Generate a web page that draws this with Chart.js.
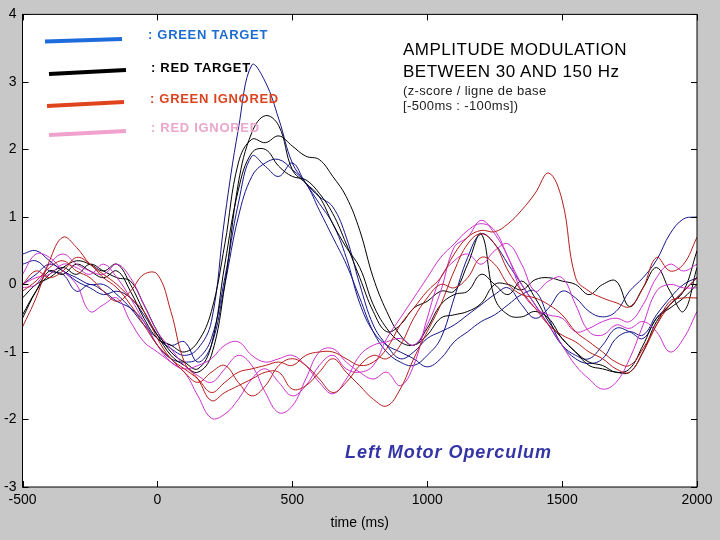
<!DOCTYPE html>
<html>
<head>
<meta charset="utf-8">
<script src="https://cdn.jsdelivr.net/npm/chart.js@4.4.1/dist/chart.umd.min.js"></script>
<style>
  body { margin: 0; background: #c8c8c8; }
  #wrap { position: relative; width: 720px; height: 540px; font-family: "Liberation Sans", Arial, sans-serif; }
  #wrap canvas { position: absolute; left: 0; top: 0; }
  .txt { position: absolute; white-space: nowrap; }
  .leg { font-size: 13px; line-height: 13px; font-weight: bold; letter-spacing: 0.7px; }
  .ttl { font-size: 17px; line-height: 17px; color: #000; letter-spacing: 0.5px; }
  .sub { font-size: 13px; line-height: 13px; color: #222; letter-spacing: 0.35px; }
  .region { font-size: 18px; line-height: 18px; font-weight: bold; font-style: italic; color: #3434a6; letter-spacing: 0.95px; }
</style>
</head>
<body>
<div id="wrap">
  <canvas id="chart" width="720" height="540"></canvas>
  <div class="txt leg" style="left:148px; top:28px; color:#1e6cd2;">: GREEN TARGET</div>
  <div class="txt leg" style="left:151px; top:61px; color:#000;">: RED TARGET</div>
  <div class="txt leg" style="left:150px; top:92px; color:#dc4420;">: GREEN IGNORED</div>
  <div class="txt leg" style="left:151px; top:121px; color:#eaa6cc;">: RED IGNORED</div>
  <div class="txt ttl" style="left:403px; top:41px;">AMPLITUDE MODULATION</div>
  <div class="txt ttl" style="left:403px; top:63px;">BETWEEN 30 AND 150 Hz</div>
  <div class="txt sub" style="left:403px; top:84px;">(z-score / ligne de base</div>
  <div class="txt sub" style="left:403px; top:99px;">[-500ms : -100ms])</div>
  <div class="txt region" style="left:345px; top:443px;">Left Motor Operculum</div>
</div>
<script>
// temps (ms), un point tous les 50 ms
const times = [-500, -450, -400, -350, -300, -250, -200, -150, -100, -50,
    0, 50, 100, 150, 200, 250, 300, 350, 400, 450,
    500, 550, 600, 650, 700, 750, 800, 850, 900, 950,
    1000, 1050, 1100, 1150, 1200, 1250, 1300, 1350, 1400, 1450,
    1500, 1550, 1600, 1650, 1700, 1750, 1800, 1850, 1900, 1950, 2000];

// green target (bleu)
const blueA = [0.45, 0.5, 0.35, 0.2, 0.1, 0.0, 0.0, -0.15, -0.35, -0.6,
    -0.8, -0.95, -1.05, -0.95, -0.55, 1.0, 2.3, 3.25, 3.0, 2.45,
    1.8, 1.5, 1.2, 0.9, 0.4, -0.28, -0.7, -0.9, -1.0, -1.1,
    -1.22, -1.1, -0.85, -0.7, -0.55, -0.45, -0.3, -0.15, -0.1, -0.5,
    -0.9, -1.1, -1.17, -1.1, -0.8, -0.7, -0.75, -0.45, -0.2, 0.0, 0.1];
const blueB = [0.3, 0.35, 0.2, 0.15, -0.1, 0.0, -0.1, -0.25, -0.35, -0.55,
    -0.9, -1.1, -1.15, -1.1, -0.8, 0.1, 1.2, 1.9, 1.75, 1.6,
    1.8, 1.5, 1.3, 1.15, 0.7, 0.0, -0.6, -0.9, -1.1, -1.0,
    -0.8, -0.7, -0.6, -0.45, -0.3, -0.15, -0.05, -0.3, -0.5, -0.35,
    -0.1, -0.2, -0.4, -0.48, -0.4, -0.1, 0.1, 0.36, 0.75, 0.97, 1.0];
const blueC = [0.0, 0.15, 0.3, 0.2, 0.05, -0.05, -0.15, -0.1, -0.2, -0.45,
    -0.75, -0.9, -0.85, -1.15, -0.9, 0.0, 1.0, 1.6, 1.8, 1.85,
    1.7, 1.5, 1.1, 0.7, 0.3, -0.2, -0.7, -1.0, -1.15, -1.2,
    -1.05, -0.8, -0.2, 0.4, 0.75, 0.6, 0.3, 0.0, -0.3, -0.6,
    -0.9, -1.05, -1.1, -0.9, -0.65, -0.7, -0.8, -0.5, -0.3, -0.1, 0.1];

// red target (noir)
const blackA = [-0.2, 0.0, 0.1, 0.25, 0.35, 0.3, 0.2, 0.3, 0.0, -0.4,
    -0.75, -1.05, -1.2, -1.3, -1.05, 0.0, 1.5, 2.25, 2.5, 2.35,
    1.7, 1.5, 1.3, 0.9, 0.55, 0.25, -0.3, -0.65, -0.85, -0.9,
    -0.75, -0.5, -0.45, -0.4, -0.28, 0.0, 0.0, -0.08, 0.07, 0.1,
    0.05, 0.0, -0.15, 0.0, 0.05, -0.33, -0.05, 0.25, -0.1, -0.4, 0.25];
const blackB = [-0.5, -0.1, 0.2, 0.15, 0.3, 0.2, 0.1, 0.2, -0.1, -0.5,
    -0.8, -0.9, -1.0, -0.85, -0.4, 0.6, 1.8, 2.15, 2.1, 2.2,
    2.05, 1.9, 1.85, 1.6, 1.3, 0.8, 0.1, -0.4, -0.75, -0.9,
    -0.65, -0.3, -0.15, -0.1, 0.15, 0.0, -0.15, 0.05, -0.2, -0.55,
    -0.8, -1.0, -1.2, -1.25, -1.3, -1.3, -1.0, -0.55, -0.3, -0.1, 0.5];
const blackC = [-0.45, -0.1, 0.15, 0.25, 0.15, 0.3, 0.2, 0.1, 0.05, -0.3,
    -0.7, -1.0, -1.15, -1.25, -0.9, 0.3, 1.4, 1.95, 2.0, 1.75,
    1.6, 1.55, 1.35, 1.05, 0.6, 0.1, -0.4, -0.7, -0.6, -0.35,
    -0.25, -0.1, -0.1, 0.3, 0.75, -0.2, -0.45, -0.48, -0.4, -0.5,
    -0.8, -1.0, -1.15, -1.2, -1.3, -1.25, -0.9, -0.5, -0.35, -0.2, 0.0];

// green ignored (rouge)
const redA = [-0.63, -0.2, 0.35, 0.7, 0.55, 0.3, 0.15, 0.0, -0.2, -0.4,
    -0.8, -1.1, -1.25, -1.4, -1.6, -1.45, -1.3, -1.25, -1.2, -1.15,
    -1.2, -1.05, -1.0, -1.0, -1.1, -1.2, -1.15, -0.95, -0.6, -0.35,
    -0.1, 0.1, 0.45, 0.7, 0.8, 0.78, 0.9, 1.1, 1.35, 1.65,
    1.25, 0.1, -0.1, -0.2, -0.27, -0.33, -0.05, 0.4, 0.2, 0.3, 0.7];
const redB = [-0.1, 0.05, 0.25, 0.35, 0.2, 0.1, -0.1, -0.25, -0.1, 0.15,
    0.15, -0.4, -1.15, -1.4, -1.72, -1.6, -1.5, -1.4, -1.3, -1.3,
    -1.55, -1.5, -1.3, -1.1, -1.3, -1.5, -1.7, -1.8, -1.55, -1.1,
    -0.7, -0.3, 0.2, 0.6, 0.75, 0.6, 0.2, -0.1, -0.35, -0.6,
    -0.75, -0.85, -1.0, -1.1, -1.25, -1.3, -1.0, -0.6, -0.25, -0.2, -0.2];
const redC = [0.0, 0.2, 0.1, 0.2, 0.4, 0.3, 0.1, -0.05, -0.3, -0.6,
    -0.9, -1.1, -1.3, -1.45, -1.3, -1.2, -1.45, -1.65, -1.5, -1.2,
    -1.1, -1.2, -1.4, -1.6, -1.45, -1.2, -1.05, -1.1, -0.9, -0.5,
    -0.2, 0.0, -0.05, 0.1, 0.4, 0.3, 0.0, -0.15, -0.2, -0.3,
    -0.45, -0.7, -0.85, -1.0, -1.15, -1.2, -0.95, -0.6, -0.3, -0.1, 0.1];

// red ignored (magenta)
const magA = [0.15, 0.45, 0.4, 0.2, 0.0, -0.4, -0.3, -0.2, -0.55, -0.85,
    -1.0, -1.15, -1.3, -1.65, -1.98, -1.92, -1.7, -1.4, -1.25, -1.45,
    -1.65, -1.5, -1.2, -1.05, -1.25, -1.3, -1.2, -0.8, -0.5, -0.2,
    0.1, 0.4, 0.6, 0.8, 0.9, 0.8, 0.4, 0.0, -0.3, -0.6,
    -0.9, -1.2, -1.4, -1.55, -1.45, -1.1, -0.6, -0.1, 0.0, -0.05, -0.05];
const magB = [-0.05, 0.0, 0.3, 0.45, 0.3, 0.2, 0.15, 0.3, 0.1, -0.3,
    -0.7, -0.95, -1.2, -1.35, -1.45, -1.25, -1.05, -1.2, -1.6, -1.9,
    -1.8, -1.4, -1.0, -0.95, -1.15, -1.3, -1.4, -1.3, -1.5, -1.2,
    -0.5, 0.1, 0.35, 0.45, 0.3, 0.5, 0.6, 0.3, -0.1, 0.05,
    0.1, -0.3, -0.7, -0.75, -0.6, -0.65, -0.55, -0.7, -1.0, -0.8, -0.4];
const magC = [0.0, 0.1, 0.15, 0.3, 0.25, 0.15, 0.3, 0.1, -0.2, -0.55,
    -0.9, -1.15, -1.25, -1.2, -1.1, -0.9, -0.85, -1.05, -1.15, -1.1,
    -1.05, -1.2, -1.45, -1.62, -1.4, -1.05, -0.9, -0.85, -0.8, -0.9,
    -0.6, -0.1, 0.55, 0.7, 0.95, 0.75, 0.4, -0.1, -0.35, -0.45,
    -0.5, -0.7, -0.65, -0.55, -0.5, -0.55, -0.3, 0.1, 0.3, 0.2, 0.3];

const xTicks = [-500, 0, 500, 1000, 1500, 2000];
const yTicks = [-3, -2, -1, 0, 1, 2, 3, 4];

const BLUE = '#16168c';
const BLACK = '#000000';
const RED = '#b81c1c';
const MAGENTA = '#cc30cc';

function serie(data, color) {
    return {
        data: data,
        borderColor: color,
        borderWidth: 1,
        pointRadius: 0,
        fill: false,
        tension: 0.4
    };
}

// fond blanc, cadre, graduations vers l'intérieur et traits de légende
const framePlugin = {
    id: 'frame',
    beforeDatasetsDraw(chart) {
        const { ctx, chartArea: a } = chart;
        ctx.save();
        ctx.fillStyle = '#ffffff';
        ctx.fillRect(a.left, a.top, a.right - a.left, a.bottom - a.top);
        ctx.restore();
    },
    afterDatasetsDraw(chart) {
        const { ctx, chartArea: a, scales } = chart;
        ctx.save();
        ctx.strokeStyle = '#000';
        ctx.lineWidth = 1;
        ctx.strokeRect(a.left, a.top, a.right - a.left, a.bottom - a.top);
        ctx.beginPath();
        scales.x.ticks.forEach(t => {
            const px = Math.round(scales.x.getPixelForValue(t.value)) + 0.5;
            ctx.moveTo(px, a.bottom); ctx.lineTo(px, a.bottom - 6);
            ctx.moveTo(px, a.top); ctx.lineTo(px, a.top + 6);
        });
        scales.y.ticks.forEach(t => {
            const py = Math.round(scales.y.getPixelForValue(t.value)) + 0.5;
            ctx.moveTo(a.left, py); ctx.lineTo(a.left + 6, py);
            ctx.moveTo(a.right, py); ctx.lineTo(a.right - 6, py);
        });
        ctx.stroke();

        // traits de légende
        const swatches = [
            ['#1e6cdc', 45, 41.5, 122, 39],
            ['#000000', 49, 74, 126, 70],
            ['#e0441c', 47, 106, 124, 102],
            ['#f0a2cc', 49, 135, 126, 131]
        ];
        ctx.lineWidth = 4;
        ctx.lineCap = 'butt';
        swatches.forEach(s => {
            ctx.strokeStyle = s[0];
            ctx.beginPath();
            ctx.moveTo(s[1], s[2]);
            ctx.lineTo(s[3], s[4]);
            ctx.stroke();
        });
        ctx.restore();
    }
};

const tickFont = { family: "'Liberation Sans', Arial, sans-serif", size: 14 };

new Chart(document.getElementById('chart'), {
    type: 'line',
    data: {
        labels: times,
        datasets: [
            serie(redA, RED), serie(redB, RED), serie(redC, RED),
            serie(magA, MAGENTA), serie(magB, MAGENTA), serie(magC, MAGENTA),
            serie(blackA, BLACK), serie(blackB, BLACK), serie(blackC, BLACK),
            serie(blueA, BLUE), serie(blueB, BLUE), serie(blueC, BLUE)
        ]
    },
    options: {
        responsive: false,
        animation: false,
        layout: { padding: { top: 14, right: 23, left: 0, bottom: 0 } },
        plugins: { legend: { display: false }, tooltip: { enabled: false } },
        scales: {
            x: {
                type: 'linear',
                min: -500,
                max: 2000,
                afterBuildTicks(s) { s.ticks = xTicks.map(v => ({ value: v })); },
                afterFit(s) { s.height = 53; },
                ticks: {
                    color: '#000', font: tickFont, padding: 5, maxRotation: 0, autoSkip: false,
                    callback: v => String(v)
                },
                grid: { display: false, drawTicks: false },
                border: { display: false },
                title: { display: true, text: 'time (ms)', color: '#000', font: tickFont, padding: { top: 0, bottom: 8 } }
            },
            y: {
                min: -3,
                max: 4,
                afterBuildTicks(s) { s.ticks = yTicks.map(v => ({ value: v })); },
                afterFit(s) { s.width = 22.5; },
                ticks: { color: '#000', font: tickFont, padding: 6, callback: v => String(v) },
                grid: { display: false, drawTicks: false },
                border: { display: false }
            }
        }
    },
    plugins: [framePlugin]
});
</script>
</body>
</html>
